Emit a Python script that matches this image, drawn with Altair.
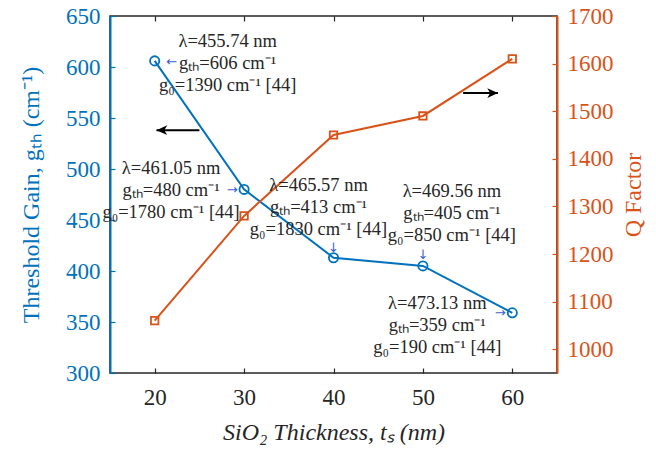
import altair as alt
import pandas as pd

# ---- data ----
thickness = [20, 30, 40, 50, 60]
gain_th = [606, 480, 413, 405, 359]
q_factor = [1060, 1280, 1450, 1490, 1610]
wavelength = ["455.74", "461.05", "465.57", "469.56", "473.13"]
gain_0 = [1390, 1780, 1830, 850, 190]

x_ticks = [20, 30, 40, 50, 60]
g_ticks = [300, 350, 400, 450, 500, 550, 600, 650]
q_ticks = [1000, 1100, 1200, 1300, 1400, 1500, 1600, 1700]

# annotation placement (pixel offsets from each data point to first text line)
label_dx = [73, -73, -15, 29, -75]
label_dy = [-20, -21, -73, -75, -10]
arrow_glyph = ["←", "→", "↓", "↓", "→"]
arrow_dx = [17, -12, 0, 0, -12]
arrow_dy = [1, 1, -10, -11, 0]

# big black arrows (data coordinates)
left_arrow = {"t": 25.0, "t2": 20.2, "g": 538}
right_arrow = {"t": 54.5, "t2": 58.4, "q": 1538}

BLUE = "#0072BD"
ORANGE = "#D95319"
ARROW_BLUE = "#3a5fcd"
TXT = "#262626"
FONT = "Liberation Serif, Times New Roman, serif"

df = pd.DataFrame({"t": thickness, "g": gain_th, "q": q_factor})
df["label"] = [
    f"λ={w} nm\ngₜₕ={g} cm⁻¹\ng₀={z} cm⁻¹ [44]"
    for w, g, z in zip(wavelength, gain_th, gain_0)
]

xs = alt.Scale(domain=[15, 65], nice=False, zero=False)
gs = alt.Scale(domain=[300, 650], nice=False, zero=False)
qs = alt.Scale(domain=[950, 1700], nice=False, zero=False)

base = alt.Chart(df)

x_main = alt.X(
    "t:Q", scale=xs,
    axis=alt.Axis(
        orient="bottom", values=x_ticks, ticks=False, domain=False, format="d",
        labelFont=FONT, labelFontSize=23, labelColor=TXT, labelPadding=13,
        title="SiO₂ Thickness, tₛ (nm)", titleFont=FONT, titleFontSize=24,
        titleFontStyle="italic", titleFontWeight="normal", titleColor=TXT,
        titlePadding=11, grid=False,
    ),
)
x_none = alt.X("t:Q", scale=xs, axis=None)

blue_line = base.mark_line(color=BLUE, strokeWidth=2).encode(
    x=x_main,
    y=alt.Y("g:Q", scale=gs, axis=alt.Axis(
        orient="left", values=g_ticks, ticks=False, domainColor=BLUE,
        domainWidth=2, format="d", labelFont=FONT, labelFontSize=23,
        labelColor=BLUE, labelPadding=10, title="Threshold Gain, gₜₕ (cm⁻¹)",
        titleFont=FONT, titleFontSize=24, titleFontWeight="normal",
        titleColor=BLUE, titlePadding=22, grid=False)),
)
blue_pts = base.mark_point(shape="circle", filled=False, size=85,
                           strokeWidth=1.8, color=BLUE, opacity=1).encode(
    x=x_none, y=alt.Y("g:Q", scale=gs, axis=None))

orange_line = base.mark_line(color=ORANGE, strokeWidth=2).encode(
    x=x_none,
    y=alt.Y("q:Q", scale=qs, axis=alt.Axis(
        orient="right", values=q_ticks, ticks=False, domainColor=ORANGE,
        domainWidth=2, format="d", labelFont=FONT, labelFontSize=23,
        labelColor=ORANGE, labelPadding=10, title="Q Factor", titleFont=FONT,
        titleFontSize=24, titleFontWeight="normal", titleColor=ORANGE,
        titleAngle=270, titleBaseline="top", titlePadding=8, grid=False)),
)
orange_pts = base.mark_point(shape="square", filled=False, size=55,
                             strokeWidth=1.8, color=ORANGE, opacity=1).encode(
    x=x_none, y=alt.Y("q:Q", scale=qs, axis=None))

# inward ticks
tick_common = dict(labels=False, domain=False, tickSize=5, tickWidth=1.2,
                   offset=-5, title=None, grid=False)
xb_ticks = base.mark_point(opacity=0).encode(
    x=alt.X("t:Q", scale=xs, axis=alt.Axis(orient="bottom", values=x_ticks,
                                            tickColor=TXT, **tick_common)))
xt_ticks = base.mark_point(opacity=0).encode(
    x=alt.X("t:Q", scale=xs, axis=alt.Axis(orient="top", values=x_ticks,
                                            tickColor=TXT, **tick_common)))
yl_ticks = base.mark_point(opacity=0).encode(
    y=alt.Y("g:Q", scale=gs, axis=alt.Axis(orient="left", values=g_ticks,
                                            tickColor=BLUE, **tick_common)))
yr_ticks = base.mark_point(opacity=0).encode(
    y=alt.Y("q:Q", scale=qs, axis=alt.Axis(orient="right", values=q_ticks,
                                            tickColor=ORANGE, **tick_common)))

layers = [xb_ticks, xt_ticks, yl_ticks, yr_ticks,
          blue_line, orange_line, blue_pts, orange_pts]

# annotations
for i in range(len(thickness)):
    row = df.iloc[[i]]
    c = alt.Chart(row)
    layers.append(
        c.mark_text(font=FONT, fontSize=18.5, color=TXT, lineBreak="\n",
                    lineHeight=22, align="center", baseline="middle",
                    dx=label_dx[i], dy=label_dy[i]).encode(
            x=x_none, y=alt.Y("g:Q", scale=gs, axis=None), text="label:N"))
    layers.append(
        c.mark_text(font="DejaVu Sans", fontSize=13, color=ARROW_BLUE,
                    align="center", baseline="middle",
                    dx=arrow_dx[i], dy=arrow_dy[i]).encode(
            x=x_none, y=alt.Y("g:Q", scale=gs, axis=None),
            text=alt.value(arrow_glyph[i])))

la = pd.DataFrame([left_arrow])
ra = pd.DataFrame([right_arrow])
layers += [
    alt.Chart(la).mark_rule(color="black", strokeWidth=2).encode(
        x=alt.X("t:Q", scale=xs, axis=None), x2="t2:Q",
        y=alt.Y("g:Q", scale=gs, axis=None)),
    alt.Chart(la).mark_point(shape="M0,0L1.1,-0.5L0.8,0L1.1,0.5Z", filled=True,
                             color="black", size=380, opacity=1,
                             strokeWidth=0).encode(
        x=alt.X("t2:Q", scale=xs, axis=None),
        y=alt.Y("g:Q", scale=gs, axis=None)),
    alt.Chart(ra).mark_rule(color="black", strokeWidth=2).encode(
        x=alt.X("t:Q", scale=xs, axis=None), x2="t2:Q",
        y=alt.Y("q:Q", scale=qs, axis=None)),
    alt.Chart(ra).mark_point(shape="M0,0L-1.1,-0.5L-0.8,0L-1.1,0.5Z", filled=True,
                             color="black", size=380, opacity=1,
                             strokeWidth=0).encode(
        x=alt.X("t2:Q", scale=xs, axis=None),
        y=alt.Y("q:Q", scale=qs, axis=None)),
]

chart = (
    alt.layer(*layers)
    .resolve_scale(y="independent")
    .resolve_axis(x="independent", y="independent")
    .properties(
        width=447, height=357,
        padding={"left": 110, "top": 16, "right": 99, "bottom": 76},
        autosize=alt.AutoSizeParams(type="none"),
        background="white",
    )
    .configure_view(stroke=TXT, strokeWidth=1.5)
)

chart.save("out.html", embed_options={"renderer": "svg", "actions": False})
